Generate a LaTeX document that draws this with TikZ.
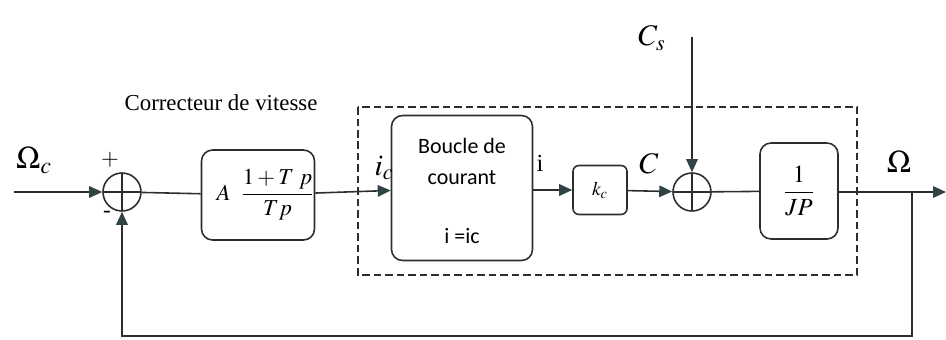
\documentclass[tikz,border=0pt]{standalone}
\usepackage{amsmath}
\usepackage{mathptmx}
\usepackage{fontspec}
\setmainfont{Liberation Serif}
\newfontfamily\calibri{Carlito}
\usetikzlibrary{arrows.meta,positioning}

\definecolor{tipgray}{RGB}{48,66,68}
\definecolor{linegray}{RGB}{45,45,45}

\begin{document}
\begin{tikzpicture}[x=0.02cm,y=-0.02cm,font=\fontsize{13}{15}\selectfont,
  every node/.style={align=center},
  blockbox/.style={draw=linegray,line width=0.9pt,rounded corners=0.22cm,inner sep=0pt},
  sumnode/.style={draw=linegray,line width=0.9pt,circle,minimum size=0.76cm,inner sep=0pt,
    path picture={\draw[linegray,line width=0.9pt]
      (path picture bounding box.north) -- (path picture bounding box.south)
      (path picture bounding box.west) -- (path picture bounding box.east);}},
  link/.style={draw=linegray,line width=0.9pt},
  flow/.style={link,-{Triangle[length=0.26cm,width=0.23cm,fill=tipgray,color=tipgray]}}]
  \useasboundingbox (0,0) rectangle (946,339);
  % blocks and summing points
  \node[sumnode] (sum1) at (122,192) {};
  \node[blockbox,minimum width=2.26cm,minimum height=1.8cm,
     font=\fontsize{13}{15}\selectfont] (corr) at (258,195)
     {\hspace{0.3cm}$A\;\;\dfrac{1+T\;p}{Tp}$};
  \node[blockbox,minimum width=2.82cm,minimum height=2.9cm] (loop) at (462,188) {};
  \node[font=\calibri\fontsize{12.5}{14}\selectfont] (loopa) at (462,146) {Boucle de};
  \node[font=\calibri\fontsize{12.5}{14}\selectfont] (loopb) at (462,178) {courant};
  \node[font=\calibri\fontsize{12.5}{14}\selectfont] (loopc) at (462,236) {i =ic};
  \node[blockbox,rounded corners=0.12cm,minimum width=1.08cm,minimum height=0.98cm,
     font=\fontsize{11}{12}\selectfont] (kc) at (600,190) {$k_c$};
  \node[sumnode] (sum2) at (692,192) {};
  \node[blockbox,minimum width=1.56cm,minimum height=1.92cm,
     font=\fontsize{14}{16}\selectfont] (plant) at (799,191)
     {$\dfrac{1}{JP}$};
  % current loop frame
  \draw[linegray,line width=0.8pt,dash pattern=on 0.15cm off 0.08cm] (358,107) rectangle (857,275);
  % free ends
  \coordinate (in) at (14,192);
  \coordinate (cs) at (692,37);
  \coordinate (branch) at (912,192);
  \coordinate (out) at (946,192);
  \coordinate (fb) at (912,336);
  % connectors
  \draw[flow] (in) -- (sum1);
  \draw[link] (sum1) -- (corr);
  \draw[flow] (corr) -- (loop);
  \draw[flow] (loop.east |- kc) -- (kc);
  \draw[flow] (kc) -- (sum2);
  \draw[flow] (cs) -- (sum2);
  \draw[link] (sum2) -- (plant);
  \draw[flow] (plant.east |- out) -- (out);
  \draw[flow] (branch) -- (fb) -| (sum1);
  % labels
  \node[font=\fontsize{18}{20}\selectfont] (lomc) at (34,160) {$\Omega_c$};
  \node[font=\fontsize{13}{14}\selectfont] (plus) at (110,160) {$+$};
  \node[font=\fontsize{13}{14}\selectfont] (minus) at (107,214) {-};
  \node (lcorr) at (221,103) {Correcteur de vitesse};
  \node[font=\fontsize{17}{18}\selectfont] (lic) at (384,168) {$i_c$};
  \node[font=\fontsize{14}{16}\selectfont] (li) at (540,163) {i};
  \node[font=\fontsize{17}{18}\selectfont] (lc) at (649,164) {$C$};
  \node[font=\fontsize{17}{18}\selectfont] (lcs) at (652,38) {$C_s$};
  \node[font=\fontsize{18}{20}\selectfont] (lom) at (899,162) {$\Omega$};
\end{tikzpicture}
\end{document}
